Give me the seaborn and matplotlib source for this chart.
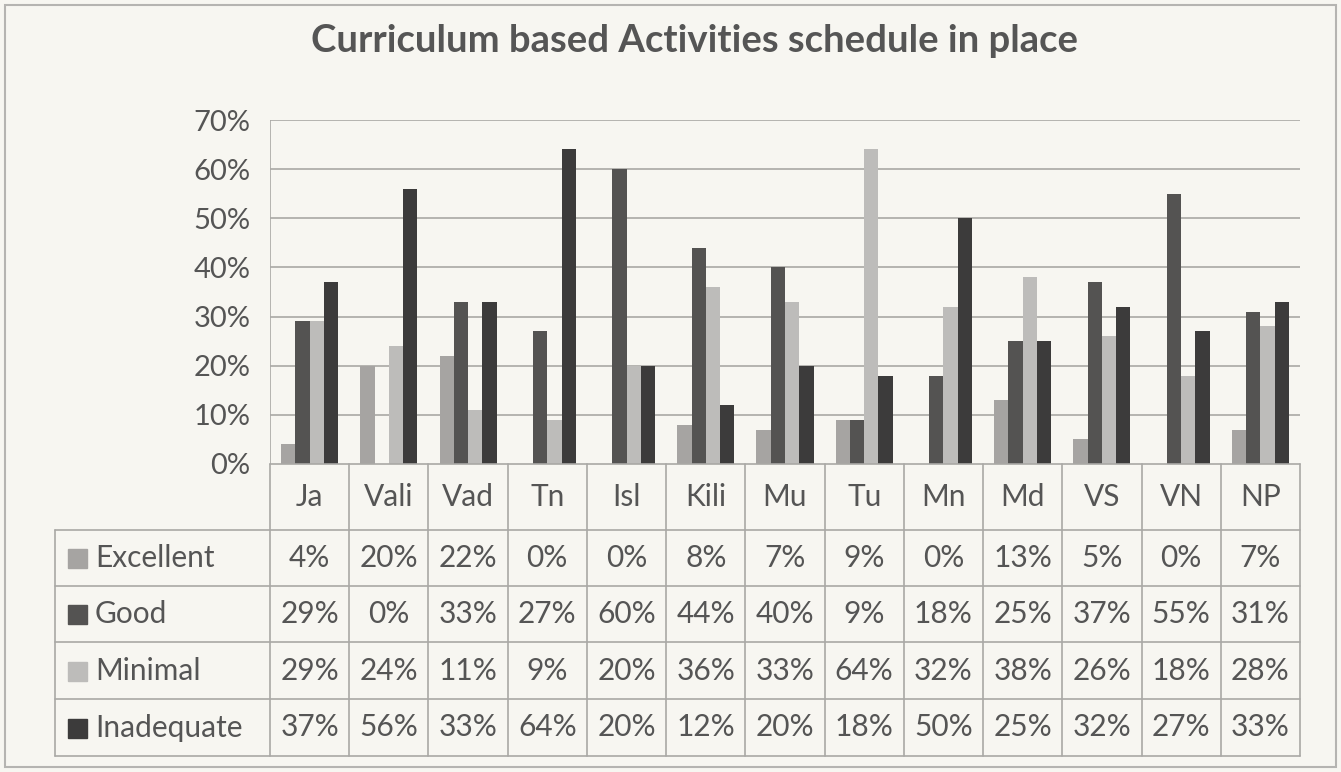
import matplotlib
matplotlib.use("Agg")
import matplotlib.pyplot as plt
import seaborn as sns
import pandas as pd
from matplotlib.lines import Line2D
from matplotlib.patches import Rectangle

categories = ["Ja", "Vali", "Vad", "Tn", "Isl", "Kili", "Mu", "Tu", "Mn", "Md", "VS", "VN", "NP"]
series_names = ["Excellent", "Good", "Minimal", "Inadequate"]
excellent = [4, 20, 22, 0, 0, 8, 7, 9, 0, 13, 5, 0, 7]
good = [29, 0, 33, 27, 60, 44, 40, 9, 18, 25, 37, 55, 31]
minimal = [29, 24, 11, 9, 20, 36, 33, 64, 32, 38, 26, 18, 28]
inadequate = [37, 56, 33, 64, 20, 12, 20, 18, 50, 25, 32, 27, 33]
y_ticks = [0, 10, 20, 30, 40, 50, 60, 70]
title = "Curriculum based Activities schedule in place"

series_values = [excellent, good, minimal, inadequate]
colors = ["#a6a4a2", "#545352", "#bdbcba", "#3c3b3b"]
bg = "#f7f6f1"
txt = "#555555"
line_c = "#a9a8a5"

rows = []
for name, vals in zip(series_names, series_values):
    for c, v in zip(categories, vals):
        rows.append({"cat": c, "series": name, "val": v})
df = pd.DataFrame(rows)

sns.set_theme(style="white")
plt.rcParams["font.family"] = ["Lato", "DejaVu Sans"]

W, H = 1341, 772
fig = plt.figure(figsize=(W / 100, H / 100), dpi=100, facecolor=bg)

L, R, T, B = 270, 1300, 120, 464
ax = fig.add_axes([L / W, 1 - B / H, (R - L) / W, (B - T) / H])
ax.set_facecolor(bg)
sns.barplot(data=df, x="cat", y="val", hue="series", hue_order=series_names,
            order=categories, palette=colors, width=0.72, saturation=1,
            ax=ax, legend=False, linewidth=0)
ax.set_xlim(-0.5, len(categories) - 0.5)
ax.set_ylim(0, 70)
ax.set_yticks(y_ticks)
ax.set_yticklabels([f"{t}%" for t in y_ticks], fontsize=21, color=txt)
ax.tick_params(axis="y", length=0, pad=14)
ax.set_xticks([])
ax.set_xlabel("")
ax.set_ylabel("")
for t in y_ticks[1:]:
    ax.axhline(t, color=line_c, lw=1.2, zorder=0)
for s in ax.spines.values():
    s.set_visible(False)
ax.axvline(-0.5, color=line_c, lw=1.2)

# overlay in pixel coordinates for table and frame
ov = fig.add_axes([0, 0, 1, 1], facecolor="none")
ov.set_xlim(0, W)
ov.set_ylim(H, 0)
ov.axis("off")

# outer frame
ov.add_patch(Rectangle((5, 5), W - 10, H - 10, fill=False, ec="#b5b4b1", lw=1.5))

ov.text(W / 2 + 24, 41, title, ha="center", va="center", fontsize=27.5,
        fontweight="bold", color=txt)

n = len(categories)
colw = (R - L) / n
row_y = [464, 530, 586, 642, 699, 756]
tab_left = 55

# horizontal lines
ov.add_line(Line2D([L, R], [row_y[0], row_y[0]], color=line_c, lw=1.2))
for y in row_y[1:]:
    ov.add_line(Line2D([tab_left, R], [y, y], color=line_c, lw=1.2))
# vertical lines
for k in range(n + 1):
    x = L + k * colw
    ov.add_line(Line2D([x, x], [row_y[0], row_y[-1]], color=line_c, lw=1.2))
ov.add_line(Line2D([tab_left, tab_left], [row_y[1], row_y[-1]], color=line_c, lw=1.2))

fs = 21.5
# header
for i, c in enumerate(categories):
    ov.text(L + (i + 0.5) * colw, (row_y[0] + row_y[1]) / 2, c, ha="center",
            va="center", fontsize=fs, color=txt)
# rows
for r, (name, vals, col) in enumerate(zip(series_names, series_values, colors)):
    yc = (row_y[r + 1] + row_y[r + 2]) / 2
    ov.add_patch(Rectangle((68, yc - 9), 19, 19, color=col))
    ov.text(95, yc, name, ha="left", va="center", fontsize=fs, color=txt)
    for i, v in enumerate(vals):
        ov.text(L + (i + 0.5) * colw, yc, f"{v}%", ha="center", va="center",
                fontsize=fs, color=txt)

fig.savefig("out.png", dpi=100, facecolor=bg)
